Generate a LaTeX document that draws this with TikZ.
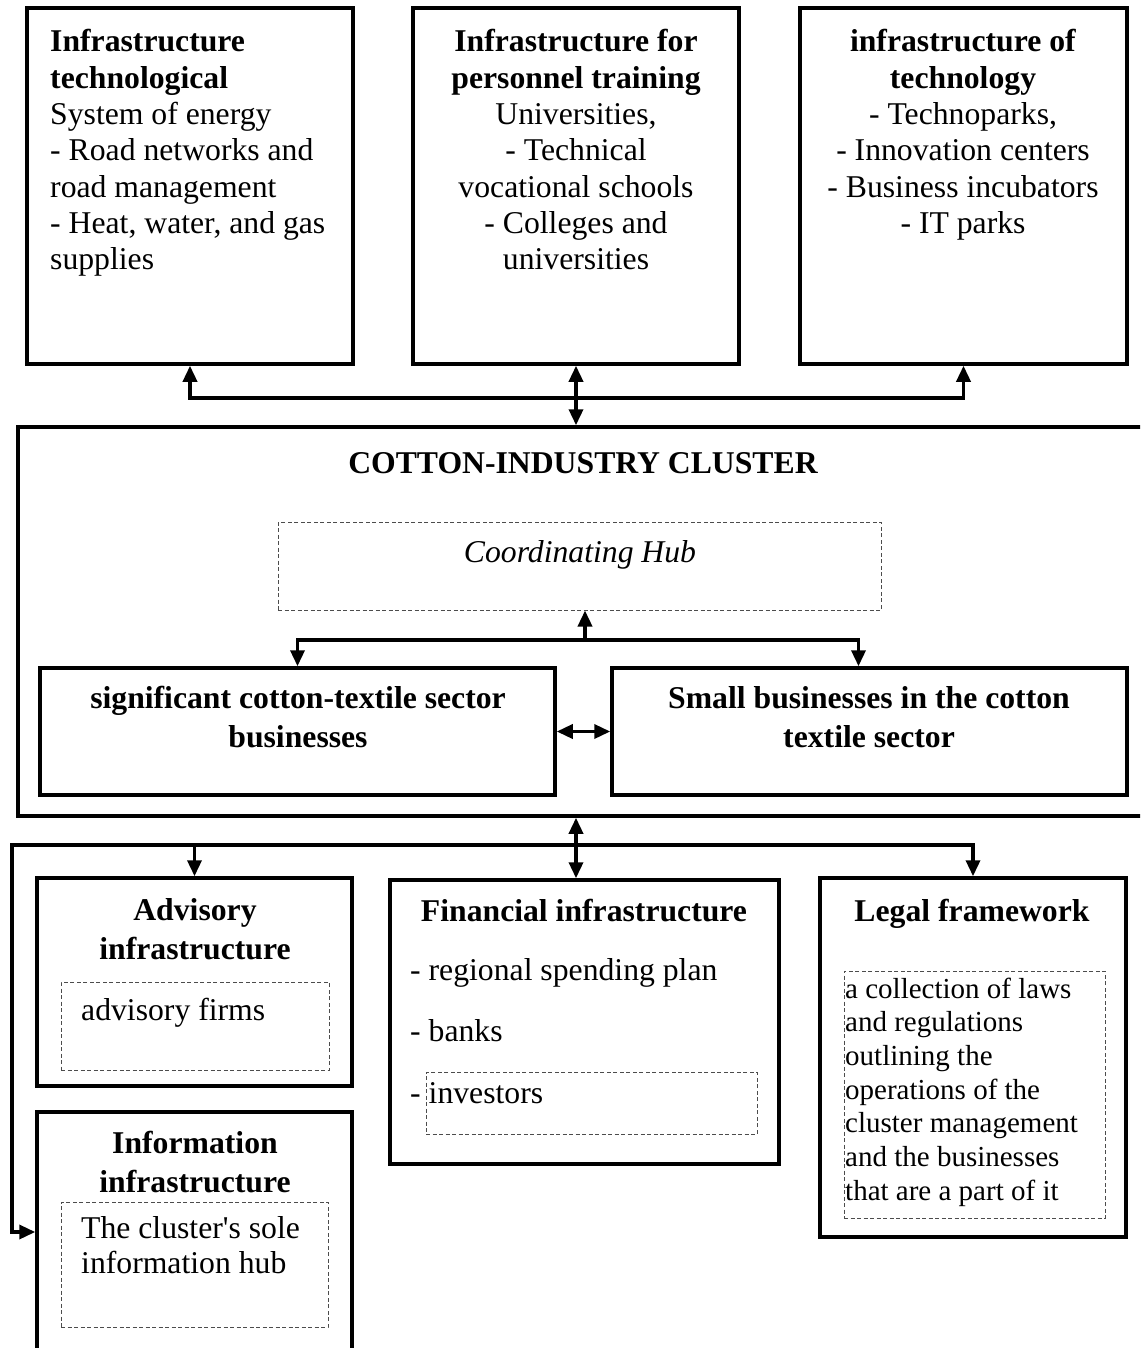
\documentclass[tikz,border=0pt]{standalone}
\usepackage{fontspec}
\setmainfont{Liberation Serif}
\newfontfamily\plainserif{Liberation Serif}
\usetikzlibrary{arrows.meta}
\begin{document}
\begin{tikzpicture}[x=1pt,y=-1pt,
  box/.style={draw, line width=3.5pt, rectangle, inner sep=0pt},
  dbox/.style={draw=black!70, line width=1pt, dash pattern=on 4pt off 2.5pt, rectangle, inner sep=0pt},
  conn/.style={line width=3.5pt},
  tri/.tip={Triangle[length=16pt,width=14pt]},
  txt/.style={inner sep=0pt, font=\fontsize{31.7}{36.3}\selectfont},
  btxt/.style={inner sep=0pt, font=\fontsize{31.7}{39}\selectfont\bfseries},
  ltxt/.style={inner sep=0pt, font=\fontsize{29}{33.7}\selectfont}]
\clip (0,0) rectangle (1140,1348);
\fill[white] (0,0) rectangle (1140,1348);

% top boxes
\node[box, minimum width=326pt, minimum height=356pt] (box1) at (190,186) {};
\node[box, minimum width=326pt, minimum height=356pt] (box2) at (576,186) {};
\node[box, minimum width=327pt, minimum height=356pt] (box3) at (963.5,186) {};

% (base anchor of a multi-line node = last line baseline)
\node[txt, anchor=base west, align=left] (t1) at (50,269.8)
  {\textbf{Infrastructure}\\\textbf{technological}\\System of energy\\- Road networks and\\road management\\- Heat, water, and gas\\supplies};
\node[txt, anchor=base, align=center] (t2) at (576,269.8)
  {\textbf{Infrastructure for}\\\textbf{personnel training}\\Universities,\\- Technical\\vocational schools\\- Colleges and\\universities};
\node[txt, anchor=base, align=center] (t3) at (963,233.5)
  {\textbf{infrastructure of}\\\textbf{technology}\\- Technoparks,\\- Innovation centers\\- Business incubators\\- IT parks};

% cluster
\node[box, minimum width=1147pt, minimum height=389pt] (cluster) at (591.5,621.5) {};
\node[btxt, anchor=base] (ctitle) at (583,473) {COTTON-INDUSTRY CLUSTER};
\node[dbox, minimum width=603pt, minimum height=88pt] (hub) at (579.5,566) {};
\node[txt, anchor=base] (hubt) at (580,562) {\itshape Coordinating Hub};
\node[box, minimum width=515pt, minimum height=127pt] (bigb) at (297.5,731.5) {};
\node[box, minimum width=515pt, minimum height=127pt] (smallb) at (869.5,731.5) {};
\node[btxt, anchor=base, align=center] (bigt) at (298,747) {significant cotton-textile sector\\businesses};
\node[btxt, anchor=base, align=center] (smallt) at (869,747) {Small businesses in the cotton\\textile sector};

% bottom boxes
\node[box, minimum width=315pt, minimum height=208pt] (adv) at (194.5,982) {};
\node[dbox, minimum width=268pt, minimum height=88pt] (advd) at (195,1026) {};
\node[btxt, anchor=base, align=center] (advt) at (195,959) {Advisory\\infrastructure};
\node[txt, anchor=base west] (advf) at (81,1020) {advisory firms};

\node[box, minimum width=315pt, minimum height=240pt] (info) at (194.5,1232) {};
\node[dbox, minimum width=267pt, minimum height=125pt] (infod) at (194.5,1264.5) {};
\node[btxt, anchor=base, align=center] (infot) at (195,1192) {Information\\infrastructure};
\node[txt, anchor=base west, align=left, font=\fontsize{31.7}{35}\selectfont\plainserif] (infoh) at (81,1273) {The cluster's sole\\information hub};

\node[box, minimum width=389pt, minimum height=284pt] (fin) at (584.5,1022) {};
\node[dbox, minimum width=331pt, minimum height=62pt] (invd) at (591.5,1103) {};
\node[btxt, anchor=base] (fint) at (584,921) {Financial infrastructure};
\node[txt, anchor=base west, align=left, font=\fontsize{31.7}{61.5}\selectfont] (finl) at (410,1103) {- regional spending plan\\- banks\\- investors};

\node[box, minimum width=306pt, minimum height=359pt] (legal) at (973,1057.5) {};
\node[dbox, minimum width=261pt, minimum height=247pt] (legald) at (974.5,1094.5) {};
\node[btxt, anchor=base] (legalt) at (972,921) {Legal framework};
\node[ltxt, anchor=base west, align=left] (legalx) at (845,1200.2)
  {a collection of laws\\and regulations\\outlining the\\operations of the\\cluster management\\and the businesses\\that are a part of it};

% connectors top
\coordinate (busT) at (189,398);
\draw[conn, {tri}-{tri}] (box1.south) -- (box1.south |- busT) -- (box3.south |- busT) -- (box3.south);
\draw[conn, {tri}-{tri}] (box2.south) -- (box2.south |- cluster.north);

% connectors inside cluster
\coordinate (hubj) at (585,640);
\draw[conn, -{tri}] (hubj) -- (hubj |- hub.south);
\draw[conn, {tri}-{tri}] (bigb.north) -- (bigb.north |- hubj) -- ([xshift=-11pt]smallb.north |- hubj) -- ([xshift=-11pt]smallb.north);
\draw[conn, {tri}-{tri}] (bigb.east) -- (smallb.west);

% connectors bottom
\coordinate (busB) at (12,845);
\draw[conn, {tri}-{tri}] (box2.south |- cluster.south) -- (box2.south |- fin.north);
\draw[conn, -{tri}] (adv.north |- busB) -- (adv.north);
\draw[conn, {tri}-{tri}] (legal.north) -- (legal.north |- busB) -- (busB) -- (busB |- info.west) -- (info.west);
\end{tikzpicture}
\end{document}
